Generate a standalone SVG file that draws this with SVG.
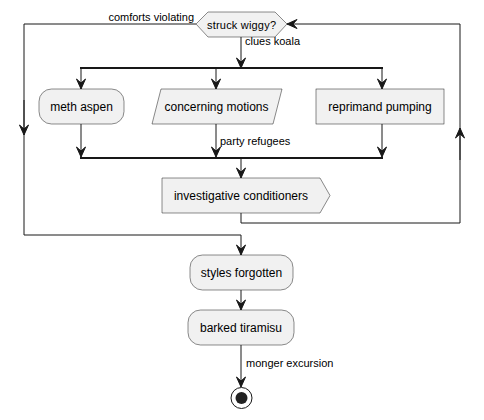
<svg xmlns="http://www.w3.org/2000/svg" width="484" height="420" viewBox="0 0 484 420">
<defs>
<style>
.n{fill:#F1F1F1;stroke:#181818;stroke-width:0.5}
.t{font-family:"Liberation Sans",Arial,sans-serif;font-size:12px;fill:#000}
.s{font-family:"Liberation Sans",Arial,sans-serif;font-size:11px;fill:#000}
.l{fill:none;stroke:#181818;stroke-width:1}
.bar{fill:#181818}
</style>
<marker id="ah" viewBox="-1 -1 12 12" refX="10" refY="5" markerWidth="12" markerHeight="12" markerUnits="userSpaceOnUse" orient="auto">
<path d="M0,0.5 L10,5 L0,9.5 L4,5 Z" fill="#181818" stroke="#181818" stroke-width="1" stroke-linejoin="miter"/>
</marker>
</defs>
<rect width="484" height="420" fill="#FFFFFF"/>
<g id="connectors">
<polyline class="l" points="241,37 241,68" marker-end="url(#ah)"/>
<rect class="bar" x="80" y="67" width="303" height="2"/>
<line class="l" x1="81" y1="69" x2="81" y2="89" marker-end="url(#ah)"/>
<line class="l" x1="216" y1="69" x2="216" y2="89" marker-end="url(#ah)"/>
<line class="l" x1="382" y1="69" x2="382" y2="89" marker-end="url(#ah)"/>
<line class="l" x1="81" y1="124" x2="81" y2="157" marker-end="url(#ah)"/>
<line class="l" x1="216" y1="124" x2="216" y2="157" marker-end="url(#ah)"/>
<line class="l" x1="382" y1="124" x2="382" y2="157" marker-end="url(#ah)"/>
<rect class="bar" x="80" y="157" width="303" height="2"/>
<line class="l" x1="241" y1="159" x2="241" y2="178" marker-end="url(#ah)"/>
<polyline class="l" points="196,24 24,24 24,235 241,235 241,255" marker-end="url(#ah)"/>
<line class="l" x1="24" y1="100" x2="24" y2="135" marker-end="url(#ah)"/>
<polyline class="l" points="241,213 241,223 460,223 460,24 287,24" marker-end="url(#ah)"/>
<line class="l" x1="460" y1="160" x2="460" y2="128" marker-end="url(#ah)"/>
<line class="l" x1="241" y1="290" x2="241" y2="310" marker-end="url(#ah)"/>
<line class="l" x1="241" y1="345" x2="241" y2="387" marker-end="url(#ah)"/>
<text class="s" x="194" y="21" text-anchor="end">comforts violating</text>
<text class="s" x="245" y="45">clues koala</text>
<text class="s" x="220" y="145">party refugees</text>
<text class="s" x="246" y="367">monger excursion</text>
</g>
<g id="decision">
<polygon class="n" points="196,24 208,12 275,12 287,24 275,37 208,37"/>
<text class="s" x="241.5" y="29" text-anchor="middle" textLength="69">struck wiggy?</text>
</g>
<g id="meth-aspen">
<rect class="n" x="39" y="89" width="85" height="35" rx="12.5"/>
<text class="t" x="81.5" y="111" text-anchor="middle">meth aspen</text>
</g>
<g id="concerning-motions">
<polygon class="n" points="161,89 282,89 273,124 152,124"/>
<text class="t" x="216.5" y="111" text-anchor="middle">concerning motions</text>
</g>
<g id="reprimand-pumping">
<rect class="n" x="316" y="89" width="128" height="35"/>
<text class="t" x="380" y="111" text-anchor="middle">reprimand pumping</text>
</g>
<g id="investigative-conditioners">
<polygon class="n" points="162,178 320,178 330,195.5 320,213 162,213"/>
<text class="t" x="241" y="200" text-anchor="middle">investigative conditioners</text>
</g>
<g id="styles-forgotten">
<rect class="n" x="190" y="255" width="103" height="35" rx="12.5"/>
<text class="t" x="241.5" y="277" text-anchor="middle">styles forgotten</text>
</g>
<g id="barked-tiramisu">
<rect class="n" x="188" y="310" width="106" height="35" rx="12.5"/>
<text class="t" x="241" y="332" text-anchor="middle">barked tiramisu</text>
</g>
<g id="end">
<circle cx="241.5" cy="398" r="10.5" fill="none" stroke="#181818" stroke-width="1"/>
<circle cx="241.5" cy="398" r="6" fill="#222222"/>
</g>
</svg>
